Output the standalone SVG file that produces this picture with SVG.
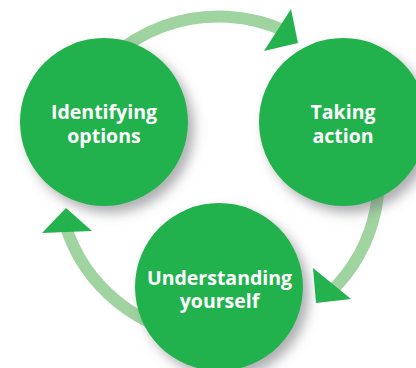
<svg xmlns="http://www.w3.org/2000/svg" width="416" height="368" viewBox="0 0 416 368">
  <defs>
    <filter id="shadow" x="-30%" y="-30%" width="170%" height="170%">
      <feDropShadow dx="6" dy="7" stdDeviation="6" flood-color="#6d6e73" flood-opacity="0.55"/>
    </filter>
  </defs>
  <style>
    .ring { fill: none; stroke: #9fd3a0; stroke-width: 12; }
    .node { fill: #23b24d; filter: url(#shadow); }
    .head { fill: #23b24d; }
    .label { fill: #ffffff; font-family: "Open Sans", "Noto Sans", "Liberation Sans", sans-serif; font-weight: 700; font-size: 19.5px; text-anchor: middle; }
  </style>
  <rect width="416" height="368" fill="#ffffff"/>
  <g id="connectors">
    <path class="ring" d="M73,109.2 A160.5,160.5 0 0 1 286.3,31.5"/>
    <path class="ring" d="M364,109.2 A160.5,160.5 0 0 1 328,294.4"/>
    <path class="ring" d="M204.5,336.9 A160.5,160.5 0 0 1 65,223.9"/>
  </g>
  <g id="identifying-options">
    <circle class="node" cx="104" cy="122" r="84"/>
    <text class="label" x="104" y="119">Identifying</text>
    <text class="label" x="104" y="143">options</text>
  </g>
  <g id="taking-action">
    <circle class="node" cx="343" cy="122" r="84"/>
    <text class="label" x="343" y="119">Taking</text>
    <text class="label" x="343" y="143">action</text>
  </g>
  <g id="understanding-yourself">
    <circle class="node" cx="219" cy="287" r="84"/>
    <text class="label" x="219.5" y="285">Understanding</text>
    <text class="label" x="219.5" y="307.5">yourself</text>
  </g>
  <g id="arrowheads">
    <polygon class="head" points="291,9 298,43 264,51"/>
    <polygon class="head" points="313,268 351,299 316,303"/>
    <polygon class="head" points="66,208 92,231 42,233"/>
  </g>
</svg>
